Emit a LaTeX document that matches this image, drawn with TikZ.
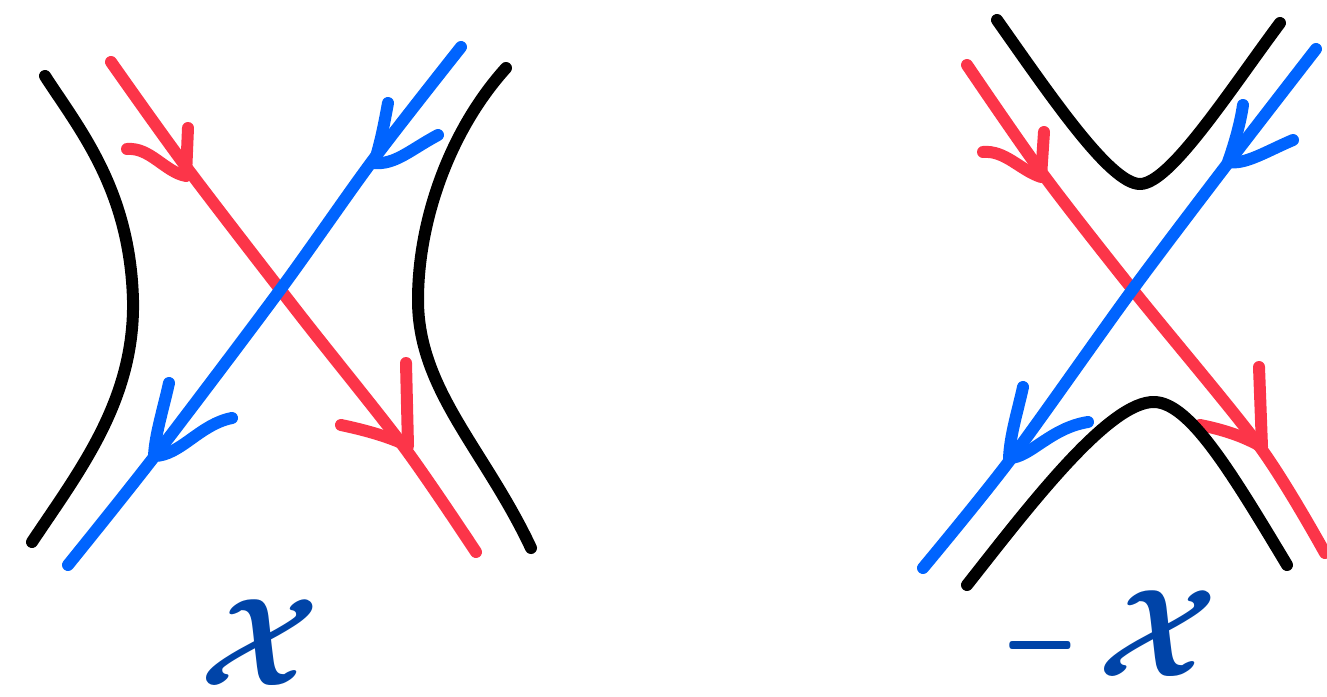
\documentclass[tikz,border=0pt]{standalone}
\usepackage{amsmath}
\usepackage{amssymb}
\usepackage{bm}
\usetikzlibrary{
    positioning
}
\definecolor{rojo}{HTML}{FC3549}
\definecolor{azul}{HTML}{0064FF}
\definecolor{tinta}{HTML}{0044A8}
\tikzset{
    trazo/.style={
        line width=12pt,
        line cap=round,
        line join=round
    },
    hilo/.style={trazo, black},
    linea roja/.style={trazo, rojo},
    linea azul/.style={trazo, azul},
    etiqueta/.style={
        text=tinta,
        inner sep=0pt,
        scale=12.5,
        transform shape
    },
    menos/.style={
        text=tinta,
        inner sep=0pt,
        xscale=10,
        yscale=20,
        transform shape
    }
}

\begin{document}
\begin{tikzpicture}[
    x=1pt,
    y=-1pt
]
    \useasboundingbox (0,0) rectangle (1327,696);

    % Cruce izquierdo
    \draw[hilo] (45,76) .. controls (80,130) and (130,190) .. (133,300)
        .. controls (135,400) and (80,470) .. (32,542);
    \draw[hilo] (506,68) .. controls (450,130) and (418,220) .. (418,300)
        .. controls (418,390) and (485,450) .. (531,548);

    \draw[linea roja] plot[smooth] coordinates {(111,62) (187,168) (300,315) (404,447) (476,552)};
    \draw[linea roja] (127,149) .. controls (150,147) and (165,172) .. (186,176) -- (188,128);
    \draw[linea roja] (341,425) .. controls (365,430) and (390,437) .. (408,446) -- (406,363);

    \draw[linea azul] plot[smooth] coordinates {(461,47) (373,160) (280,290) (154,457) (68,565)};
    \draw[linea azul] (388,103) .. controls (384,125) and (380,145) .. (374,163) .. controls (395,165) and (410,150) .. (438,135);
    \draw[linea azul] (169,383) .. controls (163,410) and (155,435) .. (154,456) .. controls (180,456) and (200,424) .. (232,418);

    % Cruce derecho
    \draw[linea roja] plot[smooth] coordinates {(967,65) (1042,173) (1133,290) (1260,447) (1325,553)};
    \draw[linea roja] (983,152) .. controls (1005,150) and (1020,170) .. (1041,177) -- (1044,132);
    \draw[linea roja] (1200,425) .. controls (1225,430) and (1245,437) .. (1262,447) -- (1259,367);

    \draw[linea azul] plot[smooth] coordinates {(1316,49) (1228,163) (1130,293) (1010,460) (923,568)};
    \draw[linea azul] (1243,105) .. controls (1240,125) and (1234,145) .. (1228,162) .. controls (1245,165) and (1265,152) .. (1293,140);
    \draw[linea azul] (1023,387) .. controls (1018,410) and (1010,435) .. (1009,458) .. controls (1030,458) and (1050,428) .. (1088,422);

    \draw[hilo] (997,20) .. controls (1050,95) and (1110,184) .. (1140,184)
        .. controls (1170,184) and (1230,90) .. (1280,23);
    \draw[hilo] (967,585) .. controls (1030,505) and (1110,400) .. (1155,402)
        .. controls (1190,404) and (1230,470) .. (1287,565);

    % Etiquetas
    \node[etiqueta] (xizq) at (260,643) {$\bm{\mathcal{X}}$};
    \node[menos]    (signo) at (1040,645) {\raisebox{-2.5pt}[0.2pt][0.2pt]{$-$}};
    \node[etiqueta] (xder) at (1158,634) {$\bm{\mathcal{X}}$};

\end{tikzpicture}
\end{document}
